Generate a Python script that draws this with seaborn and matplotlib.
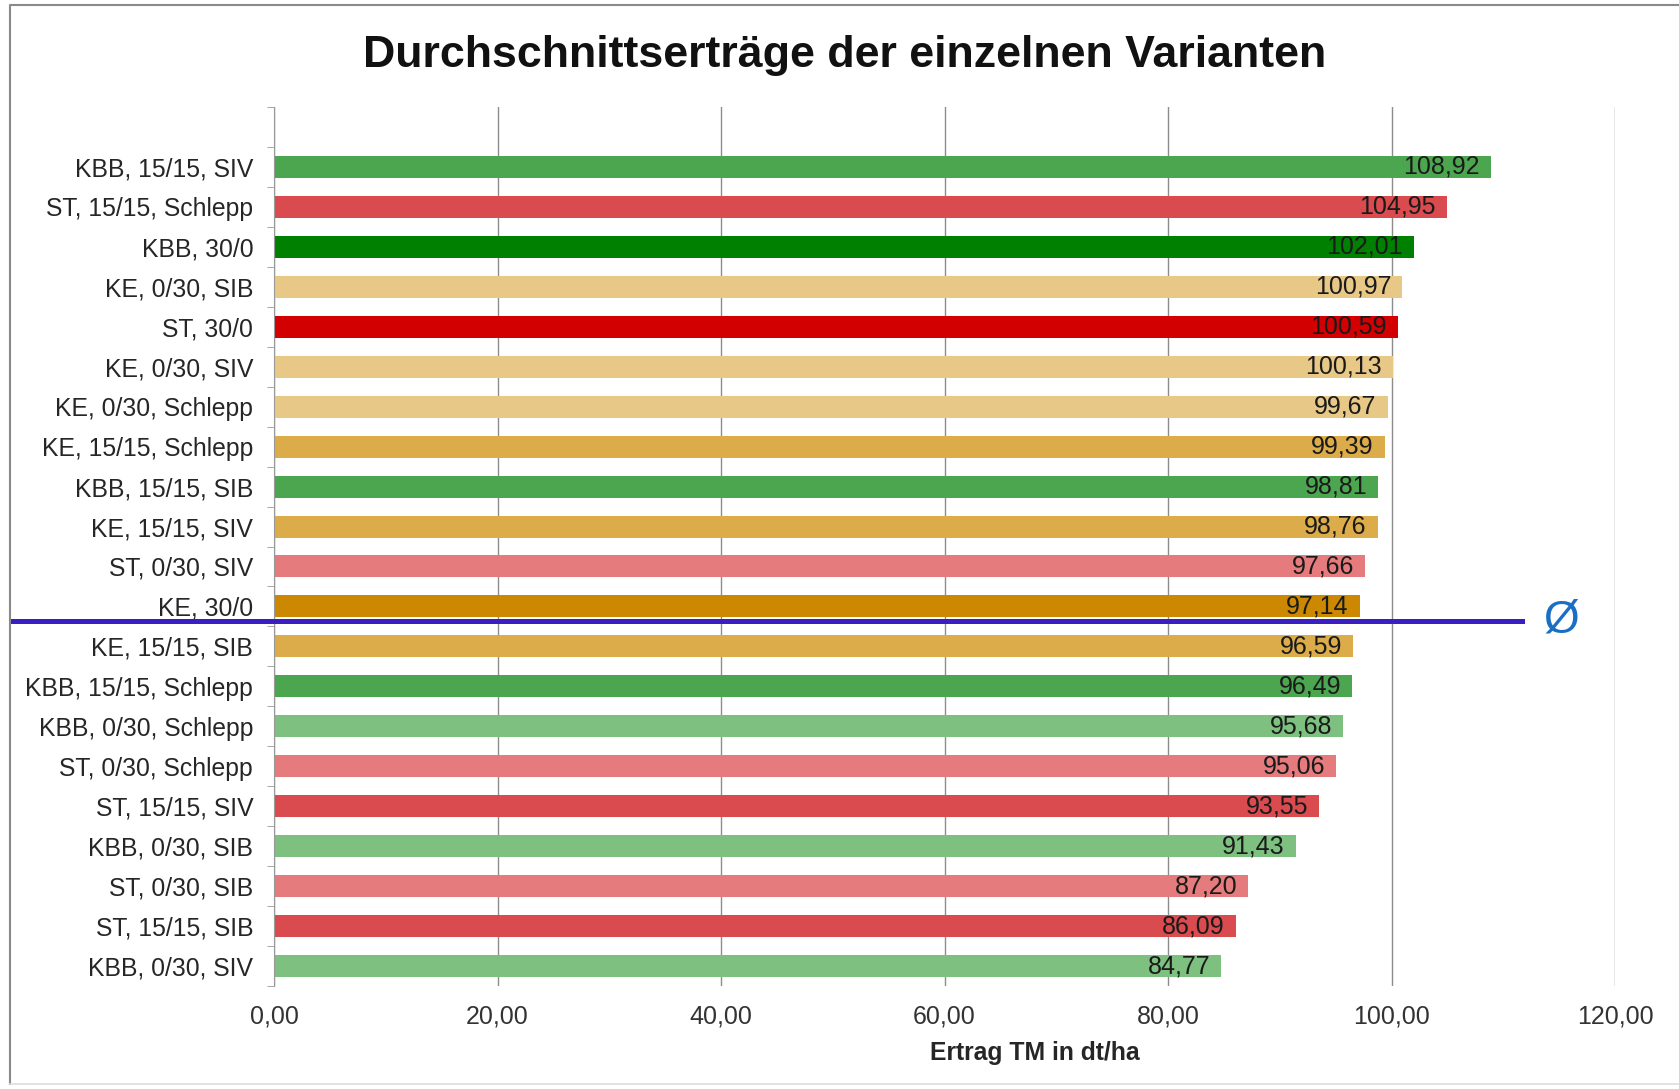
import numpy as np
import matplotlib
matplotlib.use("Agg")
import matplotlib.pyplot as plt
import matplotlib.transforms as mtransforms
from matplotlib.lines import Line2D
import seaborn as sns

# Daten (von oben nach unten)
varianten = ['KBB, 15/15, SIV', 'ST, 15/15, Schlepp', 'KBB, 30/0', 'KE, 0/30, SIB',
             'ST, 30/0', 'KE, 0/30, SIV', 'KE, 0/30, Schlepp', 'KE, 15/15, Schlepp',
             'KBB, 15/15, SIB', 'KE, 15/15, SIV', 'ST, 0/30, SIV', 'KE, 30/0',
             'KE, 15/15, SIB', 'KBB, 15/15, Schlepp', 'KBB, 0/30, Schlepp',
             'ST, 0/30, Schlepp', 'ST, 15/15, SIV', 'KBB, 0/30, SIB', 'ST, 0/30, SIB',
             'ST, 15/15, SIB', 'KBB, 0/30, SIV']
ertrag = [108.92, 104.95, 102.01, 100.97, 100.59, 100.13, 99.67, 99.39, 98.81, 98.76,
          97.66, 97.14, 96.59, 96.49, 95.68, 95.06, 93.55, 91.43, 87.20, 86.09, 84.77]
x_ticks = [0, 20, 40, 60, 80, 100, 120]

# Farbe je Kultur und Düngungsvariante
farben = {
    ('KBB', '30/0'): '#008000', ('KBB', '15/15'): '#4ba64f', ('KBB', '0/30'): '#7dc07f',
    ('ST', '30/0'): '#d20000', ('ST', '15/15'): '#d94b4f', ('ST', '0/30'): '#e57b7d',
    ('KE', '30/0'): '#cc8800', ('KE', '15/15'): '#dcab4a', ('KE', '0/30'): '#e8c886',
}
palette = [farben[(v.split(', ')[0], v.split(', ')[1])] for v in varianten]

W, H = 1679, 1089
fig = plt.figure(figsize=(W / 100, H / 100), dpi=100)
plt.rcParams['font.family'] = ['Liberation Sans', 'DejaVu Sans']
ax = fig.add_axes([274 / W, 1 - 986 / H, (1615 - 274) / W, (986 - 107) / H])

sns.barplot(x=ertrag, y=varianten, hue=varianten, palette=palette, legend=False,
            width=0.55, orient='h', saturation=1, ax=ax, zorder=2)

ax.set_xlim(0, 120)
ax.set_ylim(20.5, -1.5)
ax.set_xticks(x_ticks)
ax.set_xticklabels([f"{t:.2f}".replace('.', ',') for t in x_ticks], fontsize=18, color='#333333')
ax.tick_params(axis='x', length=0, pad=13)
ax.tick_params(axis='y', which='major', length=0, pad=15, labelsize=17.8, labelcolor='#262626')
ax.set_yticks(np.arange(-1.5, 21, 1), minor=True)
ax.tick_params(axis='y', which='minor', length=5, color='#999999', direction='out')
ax.grid(axis='x', color='#8c8c8c', lw=1, zorder=0)
ax.set_axisbelow(True)
for s in ['top', 'right', 'bottom']:
    ax.spines[s].set_visible(False)
ax.spines['left'].set_color('#999999')
ax.set_ylabel('')
ax.set_xlabel('Ertrag TM in dt/ha', fontsize=17.8, fontweight='bold', color='#262626')
ax.xaxis.set_label_coords(0.5675, -0.063)

for i, v in enumerate(ertrag):
    ax.text(v - 1.0, i, f"{v:.2f}".replace('.', ','), ha='right', va='center',
            fontsize=18, color='#1a1a1a', zorder=3)

fig.text(845 / W, 1 - 55 / H, 'Durchschnittserträge der einzelnen Varianten',
         ha='center', va='center', fontsize=32.2, fontweight='bold', color='#111111')

# Durchschnittslinie
mittel = np.mean(ertrag)
y_mittel = np.interp(-mittel, [-e for e in ertrag], np.arange(len(ertrag)))
trans = mtransforms.blended_transform_factory(fig.transFigure, ax.transData)
ax.plot([11 / W, 1522 / W], [y_mittel, y_mittel], transform=trans, color='#3b1ec2',
        lw=3.6, clip_on=False, zorder=4)
ax.text(1561 / W, y_mittel, 'Ø', transform=trans, ha='center', va='center',
        fontsize=33, color='#1a6fc4', clip_on=False)

# Rahmen (oben, links, unten)
x0, y0, y1 = 10 / W, 1 - 5 / H, 1 - 1084 / H
fig.lines.append(Line2D([1.0, x0, x0], [y0, y0, y1], transform=fig.transFigure,
                        color='#8a8a8a', lw=1.5))
fig.lines.append(Line2D([x0, 1.0], [y1, y1], transform=fig.transFigure,
                        color='#dddddd', lw=1.2))

fig.savefig('out.png', dpi=100)
